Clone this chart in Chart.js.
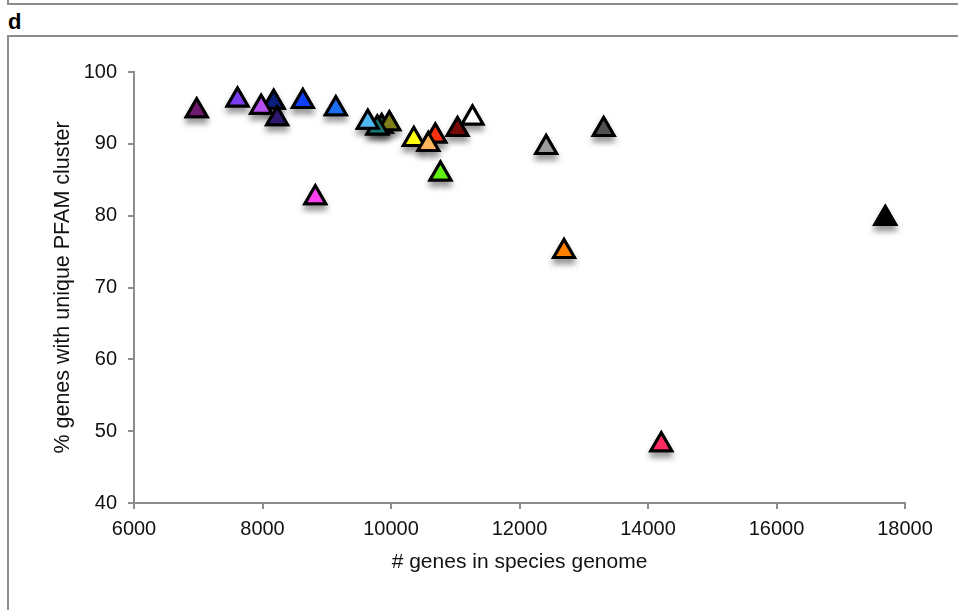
<!DOCTYPE html>
<html>
<head>
<meta charset="utf-8">
<script src="https://cdn.jsdelivr.net/npm/chart.js@4/dist/chart.umd.min.js"></script>
<style>
  html, body { margin: 0; padding: 0; background: #fff; }
  #wrap { position: relative; width: 958px; height: 610px; overflow: hidden; }
  .frame { position: absolute; border-color: #8c8c8c; border-style: solid; }
  #panel { position: absolute; left: 8px; top: 11px; font: bold 22px/22px "Liberation Sans", Arial, sans-serif; color: #000; }
  canvas { position: absolute; left: 0; top: 0; }
</style>
</head>
<body>
<div id="wrap">
  <div class="frame" style="left:7px;top:-10px;width:1000px;height:13px;border-width:0 0 2px 2px;"></div>
  <div id="panel">d</div>
  <div class="frame" style="left:7px;top:35px;width:1000px;height:700px;border-width:2px 0 0 2px;"></div>
  <canvas id="c" width="958" height="610"></canvas>
</div>
<script>
// ---- data ----
const genes = [6976, 7611, 8174, 7979, 8228, 8628, 9141, 9855, 9974, 9787, 9639,
               10355, 10690, 10581, 11268, 11035, 10770, 8822, 12415, 13310, 12693, 14207, 17693];
const pctUnique = [94.6, 96.1, 95.8, 95.1, 93.5, 95.9, 94.9, 92.4, 92.8, 92.2, 93.0,
                   90.6, 91.1, 89.9, 93.6, 92.0, 85.8, 82.5, 89.5, 92.0, 75.0, 48.1, 79.6];
const pointColors = ["#6E1A6E", "#7A3CF0", "#0A1F7A", "#B450EE", "#2E1870", "#0F40F5", "#1C6EF0",
                     "#1A5E28", "#7F7F1A", "#1A7878", "#50B8F0", "#FFFF10", "#FF3210", "#FFB45A",
                     "#FFFFFF", "#7A0A05", "#62F010", "#FF40F0", "#9A9A9A", "#505050", "#FF8000",
                     "#FF2A62", "#000000"];
const xTickValues = [6000, 8000, 10000, 12000, 14000, 16000, 18000];
const yTickValues = [40, 50, 60, 70, 80, 90, 100];
const xTitle = "# genes in species genome";
const yTitle = "% genes with unique PFAM cluster";

const points = genes.map((g, i) => ({ x: g, y: pctUnique[i] }));

const FONT = "'Liberation Sans', Arial, Helvetica, sans-serif";
const AXIS = "#8c8c8c";

// soft drop shadow drawn in a separate pass beneath the markers
const shadowPlugin = {
  id: "shadow",
  beforeDatasetsDraw(chart) {
    const ctx = chart.ctx;
    const meta = chart.getDatasetMeta(0);
    ctx.save();
    ctx.shadowColor = "rgba(0,0,0,0.38)";
    ctx.shadowBlur = 6;
    ctx.shadowOffsetX = 0;
    ctx.shadowOffsetY = 5;
    meta.data.forEach(el => el.draw(ctx, chart.chartArea));
    ctx.restore();
  }
};

new Chart(document.getElementById("c"), {
  type: "scatter",
  data: {
    datasets: [{
      data: points,
      pointStyle: "triangle",
      pointRadius: 12,
      pointHoverRadius: 12,
      borderWidth: 3,
      borderColor: "#000",
      backgroundColor: pointColors,
      pointBackgroundColor: pointColors,
      pointBorderColor: "#000"
    }]
  },
  options: {
    responsive: false,
    animation: false,
    devicePixelRatio: 1,
    layout: { padding: { left: 50, right: 53, top: 72, bottom: 35 } },
    plugins: { legend: { display: false }, tooltip: { enabled: false } },
    scales: {
      x: {
        type: "linear",
        min: 6000, max: 18000,
        afterBuildTicks: s => { s.ticks = xTickValues.map(v => ({ value: v })); },
        afterFit: s => { s.height = 72; },
        ticks: { callback: v => String(v), color: "#111", font: { family: FONT, size: 20 }, padding: 8, maxRotation: 0, autoSkip: false },
        grid: { display: true, drawOnChartArea: false, drawTicks: true, tickLength: 6, color: AXIS, lineWidth: 2 },
        border: { display: true, color: AXIS, width: 2 },
        title: { display: true, text: xTitle, color: "#111", font: { family: FONT, size: 21 }, padding: { top: 0, bottom: 0 } }
      },
      y: {
        type: "linear",
        min: 40, max: 100,
        afterBuildTicks: s => { s.ticks = yTickValues.map(v => ({ value: v })); },
        afterFit: s => { s.width = 84; },
        ticks: { callback: v => String(v), color: "#111", font: { family: FONT, size: 20 }, padding: 11, autoSkip: false },
        grid: { display: true, drawOnChartArea: false, drawTicks: true, tickLength: 6, color: AXIS, lineWidth: 2 },
        border: { display: true, color: AXIS, width: 2 },
        title: { display: true, text: yTitle, color: "#111", font: { family: FONT, size: 21.5 }, padding: { top: 0, bottom: 0 } }
      }
    }
  },
  plugins: [shadowPlugin]
});
</script>
</body>
</html>
